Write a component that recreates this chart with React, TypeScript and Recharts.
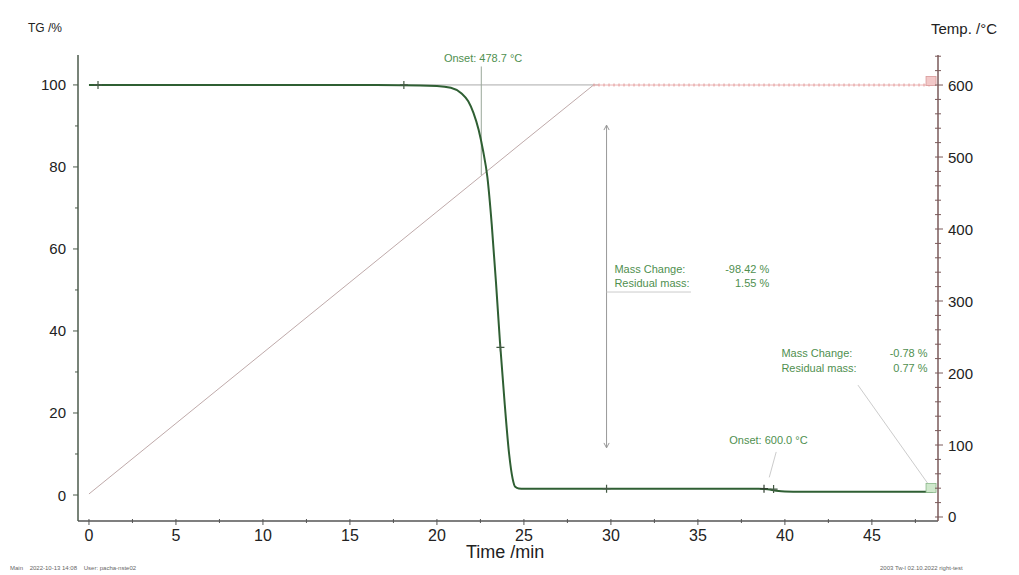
import React from 'react';
import { LineChart, Line, XAxis, YAxis, ReferenceLine, ReferenceDot } from 'recharts';

// time axis (min)
const timeTicks = [0, 2.5, 5, 7.5, 10, 12.5, 15, 17.5, 20, 22.5, 25, 27.5, 30, 32.5, 35, 37.5, 40, 42.5, 45, 47.5];
const tgTicks = [0, 10, 20, 30, 40, 50, 60, 70, 80, 90, 100];
const tempTicks = [0, 20, 40, 60, 80, 100, 120, 140, 160, 180, 200, 220, 240, 260, 280, 300, 320, 340, 360, 380, 400, 420, 440, 460, 480, 500, 520, 540, 560, 580, 600, 620, 640];

// TG curve
const tgTime = [0, 5, 10, 15, 18, 20, 20.8, 21.4, 21.8, 22.1, 22.4, 22.65, 22.9, 23.15, 23.4, 23.62, 23.9, 24.15, 24.35, 24.5, 24.7, 25, 27, 30, 35, 38.5, 39, 39.5, 40, 41, 45, 48.5];
const tgValues = [100, 100, 100, 99.97, 99.95, 99.75, 99.3, 98.0, 96.0, 93.2, 89.0, 84.0, 77.5, 66.0, 51.5, 37.5, 22.0, 10.0, 4.0, 2.0, 1.6, 1.55, 1.55, 1.55, 1.55, 1.52, 1.4, 1.05, 0.85, 0.8, 0.78, 0.77];

// temperature program
const rampTime = [0, 5, 10, 15, 20, 25, 29];
const rampTemp = [32, 130, 228, 326, 424, 522, 600];
const holdTime = [29, 35, 40, 45, 48.5];
const holdTemp = [600, 600, 600, 600, 600];

const tgData = tgTime.map((t, i) => ({ t, tg: tgValues[i] }));
const rampData = rampTime.map((t, i) => ({ t, temp: rampTemp[i] }));
const holdData = holdTime.map((t, i) => ({ t, temp: holdTemp[i] }));

const FONT = '"Liberation Sans", Arial, sans-serif';
const NOTE = '#4f8f4f';

const LeftTick = (props: any) => {
  const { x, y, payload } = props;
  const v = payload.value;
  const major = v % 20 === 0;
  return (
    <g>
      <line x1={x} x2={x - (major ? 5 : 3)} y1={y} y2={y} stroke="#4b5a4b" />
      {major && (
        <text x={x - 12} y={y} textAnchor="end" dominantBaseline="central" fontSize={15} fill="#222" fontFamily={FONT}>
          {v}
        </text>
      )}
    </g>
  );
};

const RightTick = (props: any) => {
  const { x, y, payload } = props;
  const v = payload.value;
  const major = v % 100 === 0;
  return (
    <g>
      <line x1={x - 3} x2={x + (major ? 5 : 3)} y1={y} y2={y} stroke="#7a5a5a" />
      {major && (
        <text x={x + 10} y={y} textAnchor="start" dominantBaseline="central" fontSize={15} fill="#222" fontFamily={FONT}>
          {v}
        </text>
      )}
    </g>
  );
};

const BottomTick = (props: any) => {
  const { x, y, payload } = props;
  const v = payload.value;
  const major = v % 5 === 0;
  return (
    <g>
      <line x1={x} x2={x} y1={y - 2} y2={y + (major ? 4 : 2)} stroke="#555" />
      {major && (
        <text x={x} y={y + 14} textAnchor="middle" dominantBaseline="central" fontSize={16} fill="#222" fontFamily={FONT}>
          {v}
        </text>
      )}
    </g>
  );
};

const cross = (color: string) => (p: any) => (
  <path d={`M${p.cx - 4},${p.cy}H${p.cx + 4}M${p.cx},${p.cy - 4}V${p.cy + 4}`} stroke={color} strokeWidth={1.2} />
);

const box = (fill: string, stroke: string) => (p: any) => (
  <rect x={p.cx - 5} y={p.cy - 5} width={10} height={9} fill={fill} stroke={stroke} strokeWidth={0.8} />
);

const note = (text: string, anchor: 'start' | 'end') => (p: any) => (
  <text x={p.cx} y={p.cy} textAnchor={anchor} dominantBaseline="central" fontSize={11} fill={NOTE} fontFamily={FONT}>
    {text}
  </text>
);

export default function App() {
  return (
    <div style={{ position: 'absolute', left: 0, top: 0, width: 1019, height: 575, background: '#fff', fontFamily: FONT }}>
      <LineChart width={1019} height={575} margin={{ top: 55, right: 0, bottom: 0, left: 0 }}>
        <XAxis
          dataKey="t"
          type="number"
          domain={[-0.63, 48.8]}
          allowDataOverflow
          ticks={timeTicks}
          interval={0}
          height={54}
          tickSize={0}
          tickMargin={0}
          tick={BottomTick}
          axisLine={{ stroke: '#555', strokeWidth: 1.5 }}
        />
        <YAxis
          yAxisId="tg"
          type="number"
          domain={[-6.34, 107.3]}
          allowDataOverflow
          ticks={tgTicks}
          interval={0}
          width={78}
          tickSize={0}
          tickMargin={0}
          tick={LeftTick}
          axisLine={{ stroke: '#4b5a4b', strokeWidth: 1.5 }}
        />
        <YAxis
          yAxisId="temp"
          orientation="right"
          type="number"
          domain={[-5.56, 641.7]}
          allowDataOverflow
          ticks={tempTicks}
          interval={0}
          width={81}
          tickSize={0}
          tickMargin={0}
          tick={RightTick}
          axisLine={{ stroke: '#7a5a5a', strokeWidth: 1.5 }}
        />

        {/* onset construction */}
        <ReferenceLine yAxisId="tg" segment={[{ x: 18, y: 100 }, { x: 29.3, y: 100 }]} stroke="#aaa" />
        <ReferenceLine yAxisId="tg" segment={[{ x: 22.55, y: 104.5 }, { x: 22.55, y: 78 }]} stroke="#9aa89a" />

        {/* mass change arrow */}
        <ReferenceLine yAxisId="tg" segment={[{ x: 29.75, y: 90.2 }, { x: 29.75, y: 11.5 }]} stroke="#999" />
        <ReferenceLine yAxisId="tg" segment={[{ x: 29.6, y: 89 }, { x: 29.75, y: 90.2 }]} stroke="#999" />
        <ReferenceLine yAxisId="tg" segment={[{ x: 29.9, y: 89 }, { x: 29.75, y: 90.2 }]} stroke="#999" />
        <ReferenceLine yAxisId="tg" segment={[{ x: 29.6, y: 12.7 }, { x: 29.75, y: 11.5 }]} stroke="#999" />
        <ReferenceLine yAxisId="tg" segment={[{ x: 29.9, y: 12.7 }, { x: 29.75, y: 11.5 }]} stroke="#999" />
        <ReferenceLine yAxisId="tg" segment={[{ x: 29.75, y: 49.5 }, { x: 34.6, y: 49.5 }]} stroke="#ccc" />

        {/* leader lines */}
        <ReferenceLine yAxisId="tg" segment={[{ x: 44.2, y: 26.8 }, { x: 48.2, y: 2.9 }]} stroke="#ccc" />
        <ReferenceLine yAxisId="tg" segment={[{ x: 39.5, y: 10.5 }, { x: 39.1, y: 4.3 }]} stroke="#ccc" />

        <Line yAxisId="temp" data={rampData} dataKey="temp" type="linear" stroke="#bfaaaa" strokeWidth={1} dot={false} isAnimationActive={false} />
        <Line yAxisId="temp" data={holdData} dataKey="temp" type="linear" stroke="#eab4b4" strokeWidth={1} dot={false} isAnimationActive={false} />
        <Line yAxisId="temp" data={holdData} dataKey="temp" type="linear" stroke="#e49a9a" strokeWidth={3} strokeDasharray="1 4" dot={false} isAnimationActive={false} />
        <Line yAxisId="tg" data={tgData} dataKey="tg" type="monotone" stroke="#2f5f33" strokeWidth={2} dot={false} isAnimationActive={false} />

        {/* markers */}
        <ReferenceDot yAxisId="tg" x={0.52} y={100} shape={cross('#445a44')} />
        <ReferenceDot yAxisId="tg" x={18.1} y={100} shape={cross('#445a44')} />
        <ReferenceDot yAxisId="tg" x={23.65} y={36} shape={cross('#445a44')} />
        <ReferenceDot yAxisId="tg" x={29.75} y={1.55} shape={cross('#445a44')} />
        <ReferenceDot yAxisId="tg" x={38.8} y={1.55} shape={cross('#2f3f2f')} />
        <ReferenceDot yAxisId="tg" x={39.35} y={1.45} shape={cross('#445a44')} />
        <ReferenceDot yAxisId="tg" x={48.4} y={1.6} shape={box('#cfe8cc', '#8ab88a')} />
        <ReferenceDot yAxisId="temp" x={48.4} y={605} shape={box('#f2c8c8', '#d89a9a')} />

        {/* annotation texts */}
        <ReferenceDot yAxisId="tg" x={20.4} y={106.6} shape={note('Onset: 478.7 °C', 'start')} />
        <ReferenceDot yAxisId="tg" x={30.2} y={55.2} shape={note('Mass Change:', 'start')} />
        <ReferenceDot yAxisId="tg" x={39.1} y={55.2} shape={note('-98.42 %', 'end')} />
        <ReferenceDot yAxisId="tg" x={30.2} y={51.8} shape={note('Residual mass:', 'start')} />
        <ReferenceDot yAxisId="tg" x={39.1} y={51.8} shape={note('1.55 %', 'end')} />
        <ReferenceDot yAxisId="tg" x={39.8} y={34.6} shape={note('Mass Change:', 'start')} />
        <ReferenceDot yAxisId="tg" x={48.2} y={34.6} shape={note('-0.78 %', 'end')} />
        <ReferenceDot yAxisId="tg" x={39.8} y={31.0} shape={note('Residual mass:', 'start')} />
        <ReferenceDot yAxisId="tg" x={48.2} y={31.0} shape={note('0.77 %', 'end')} />
        <ReferenceDot yAxisId="tg" x={36.8} y={13.4} shape={note('Onset: 600.0 °C', 'start')} />
      </LineChart>

      <div style={{ position: 'absolute', left: 28, top: 21, fontSize: 12, color: '#222' }}>TG /%</div>
      <div style={{ position: 'absolute', left: 931, top: 20, fontSize: 15, color: '#222' }}>Temp. /°C</div>
      <div style={{ position: 'absolute', left: 466, top: 542, fontSize: 18, color: '#222' }}>Time /min</div>
      <div style={{ position: 'absolute', left: 10, top: 565, fontSize: 6, color: '#666', whiteSpace: 'pre' }}>
        {'Main    2022-10-13 14:08    User: pacha-nste02'}
      </div>
      <div style={{ position: 'absolute', left: 880, top: 565, fontSize: 6, color: '#666', whiteSpace: 'pre' }}>
        {'2003 Tw-l 02.10.2022 right-test'}
      </div>
    </div>
  );
}
